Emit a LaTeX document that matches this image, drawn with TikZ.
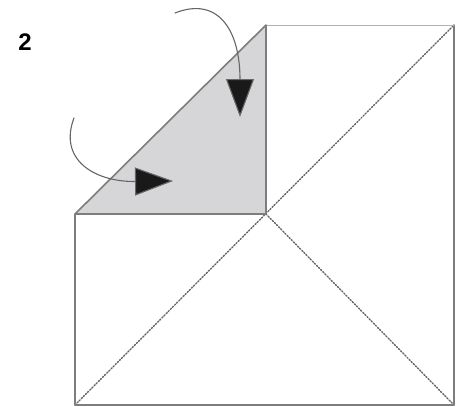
\documentclass[tikz,border=0pt]{standalone}
\usepackage{fontspec}
\setmainfont{Liberation Sans}
\usetikzlibrary{arrows.meta}

\definecolor{edgegray}{RGB}{125,125,125}
\definecolor{papergray}{RGB}{214,214,217}

\begin{document}
\begin{tikzpicture}[x=1pt,y=-1pt,line cap=round,line join=round,
  edge/.style={draw=edgegray,line width=1.6pt},
  crease/.style={draw=edgegray!80!black,line width=1.4pt,dash pattern=on 1.4pt off 1.6pt},
  fold/.style={draw=black!60,line width=1.1pt,-{Triangle[length=38pt,width=28pt,fill=black!90]}}]
\useasboundingbox (0,0) rectangle (466,407);
\coordinate (A) at (75,405);
\coordinate (B) at (454,405);
\coordinate (C) at (454,25);
\coordinate (D) at (266,25);
\coordinate (M) at (266,214);
\coordinate (L) at (75,214);
\coordinate (S1) at (175,13);
\coordinate (T1) at (240,117);
\coordinate (S2) at (74,118);
\coordinate (T2) at (173,181);
\node[font=\bfseries\fontsize{24}{24}\selectfont] (step2) at (25,42) {2};
\fill[papergray] (L)--(D)--(M)--cycle;
\draw[crease] (A)--(C);
\draw[crease] (M)--(B);
\draw[edge] (L)--(A)--(B)--(C);
\draw[edge,draw=edgegray!60,line width=1pt] (C)--(D);
\draw[edge] (L)--(D)--(M)--cycle;
\draw[fold] (S1) .. controls (218,-4) and (240,30) .. (T1);
\draw[fold] (S2) .. controls (58,160) and (95,182) .. (T2);
\end{tikzpicture}
\end{document}
